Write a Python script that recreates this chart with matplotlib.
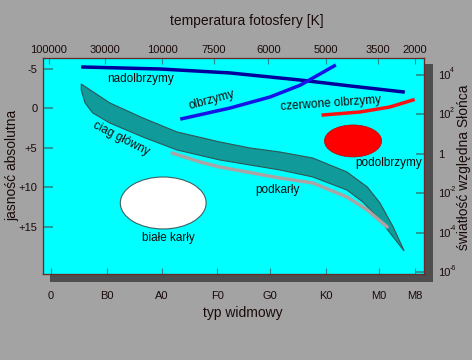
import matplotlib
matplotlib.use("Agg")
from matplotlib import pyplot as plt
from matplotlib.patches import Polygon, Ellipse, Rectangle

plt.rcParams['font.family'] = ['Liberation Sans', 'DejaVu Sans']

# spectral axis (bottom) and temperature axis (top)
spec_pos = [0, 1.02, 2.02, 3.02, 3.98, 5.0, 5.96, 6.62]
spec_lab = ['0', 'B0', 'A0', 'F0', 'G0', 'K0', 'M0', 'M8']
temp_pos = [-0.04, 0.98, 2.02, 2.96, 3.95, 5.0, 5.95, 6.62]
temp_lab = ['100000', '30000', '10000', '7500', '6000', '5000', '3500', '2000']

# absolute magnitude (left) and luminosity (right)
mag_ticks = [-5, 0, 5, 10, 15]
mag_lab = ['-5', '0', '+5', '+10', '+15']
logl_ticks = [4, 2, 0, -2, -4, -6]
logl_base = ['10', '10', '1', '10', '10', '10']
logl_exp = ['4', '2', '', '-2', '-4', '-6']

# star groups: spectral position, absolute magnitude
supergiant_sp = [0.58, 1.98, 3.25, 4.53, 5.44, 6.4]
supergiant_mag = [-5.25, -5.0, -4.5, -3.6, -2.85, -2.1]
giant_sp = [2.38, 3.25, 3.98, 4.53, 5.15]
giant_mag = [1.3, -0.05, -1.45, -2.95, -5.4]
redgiant_sp = [4.95, 5.62, 6.16, 6.58]
redgiant_mag = [0.82, 0.44, -0.19, -1.08]
subdwarf_sp = [2.2, 2.71, 3.07, 4.16, 4.76, 5.38, 5.75, 6.11]
subdwarf_mag = [5.63, 6.77, 7.41, 8.8, 9.43, 11.2, 12.85, 15.0]
ms_sp = [0.55, 1.07, 1.67, 2.29, 3.07, 3.62, 4.16, 4.76, 5.38, 5.75, 5.98, 6.22, 6.42,
         6.22, 5.98, 5.67, 5.38, 4.76, 4.16, 3.07, 2.29, 1.67, 1.07, 0.76, 0.62, 0.55]
ms_mag = [-3.1, -0.7, 1.2, 2.97, 4.24, 5.0, 5.51, 6.27, 8.04, 9.94, 11.96, 15.0, 18.04,
          16.27, 14.11, 11.84, 10.32, 8.67, 7.78, 6.52, 5.25, 3.61, 1.84, 0.57, -0.7, -2.34]
subgiant_c = (5.49, 4.11)
subgiant_wh = (1.04, 4.05)
wd_c = (2.04, 11.96)
wd_wh = (1.56, 6.58)

txt = '#1a0a0a'
fig = plt.figure(figsize=(4.72, 3.6), dpi=100, facecolor='#a3a3a3')
W, H = 472.0, 360.0
fig.add_artist(Rectangle((50 / W, 1 - 282 / H), 383 / W, 218 / H, transform=fig.transFigure,
                         facecolor='#4e4e4e', edgecolor='none', zorder=0))
ax = fig.add_axes([43 / W, 1 - 274 / H, 381 / W, 216 / H])
ax.set_facecolor('#00ffff')
ax.set_xlim(-0.145, 6.78)
ax.set_ylim(20.95, -6.39)

ms = Polygon(list(zip(ms_sp, ms_mag)), closed=True, facecolor='#119a9a', edgecolor='#2f5656', lw=0.8)
ax.add_patch(ms)
ax.plot(subdwarf_sp, subdwarf_mag, color='#aaa4a4', lw=2.5, solid_capstyle='round')
ax.plot(supergiant_sp, supergiant_mag, color='#00009c', lw=2.5)
ax.plot(giant_sp, giant_mag, color='#1414e6', lw=2.5)
ax.plot(redgiant_sp, redgiant_mag, color='#ff1010', lw=2.5)
ax.add_patch(Ellipse(subgiant_c, subgiant_wh[0], subgiant_wh[1], facecolor='#ff0000', edgecolor='#c00000', lw=0.5))
ax.add_patch(Ellipse(wd_c, wd_wh[0], wd_wh[1], facecolor='white', edgecolor='#406060', lw=0.8))

fs = 8.5
ax.text(1.62, -3.73, 'nadolbrzymy', fontsize=fs, color=txt, ha='center', va='center')
ax.text(2.93, -1.08, 'olbrzymy', fontsize=fs, color=txt, ha='center', va='center', rotation=15)
ax.text(5.09, -0.57, 'czerwone olbrzymy', fontsize=fs, color=txt, ha='center', va='center', rotation=4)
ax.text(1.27, 3.86, 'ciag główny', fontsize=fs, color=txt, ha='center', va='center', rotation=-27)
ax.text(6.13, 6.9, 'podolbrzymy', fontsize=fs, color=txt, ha='center', va='center')
ax.text(4.11, 10.3, 'podkarły', fontsize=fs, color=txt, ha='center', va='center')
ax.text(2.13, 16.4, 'białe karły', fontsize=fs, color=txt, ha='center', va='center')

tick_col = '#2a8a8a'
ax.set_xticks(spec_pos)
ax.set_xticklabels(spec_lab)
ax.tick_params(axis='x', direction='in', length=4, color=tick_col, labelsize=8, labelcolor=txt, pad=12)
ax.set_yticks(mag_ticks)
ax.set_yticklabels(mag_lab)
ax.tick_params(axis='y', direction='in', length=7, width=1.2, color=tick_col, labelsize=8, labelcolor=txt, pad=4)

axt = ax.twiny()
axt.set_xlim(ax.get_xlim())
axt.set_xticks(temp_pos)
axt.set_xticklabels(temp_lab)
axt.tick_params(axis='x', direction='in', length=4, color=tick_col, labelsize=8, labelcolor=txt, pad=2)

axr = ax.twinx()
axr.set_ylim(-6.08, 4.86)
axr.set_yticks(logl_ticks)
axr.set_yticklabels(logl_base)
axr.tick_params(axis='y', direction='in', length=6, width=1.2, color=tick_col, labelsize=8, labelcolor=txt, pad=10)
for t, e in zip(logl_ticks, logl_exp):
    if e:
        axr.annotate(e, xy=(1, t), xycoords=('axes fraction', 'data'), xytext=(18.5, 3),
                     textcoords='offset points', fontsize=5, color=txt, ha='left', va='center')

for a in (ax, axt, axr):
    for s in a.spines.values():
        s.set_color('#6a2a2a')
        s.set_linewidth(0.8)

fig.text(247 / W, 1 - 21 / H, 'temperatura fotosfery [K]', fontsize=10, color=txt, ha='center', va='center')
fig.text(243 / W, 1 - 313 / H, 'typ widmowy', fontsize=10, color=txt, ha='center', va='center')
fig.text(12 / W, 1 - 165 / H, 'jasność absolutna', fontsize=10, color=txt, ha='center', va='center', rotation=90)
fig.text(464 / W, 1 - 167 / H, 'światłość względna Słońca', fontsize=10, color=txt, ha='center', va='center', rotation=90)

fig.savefig('out.png', dpi=100, facecolor=fig.get_facecolor())
